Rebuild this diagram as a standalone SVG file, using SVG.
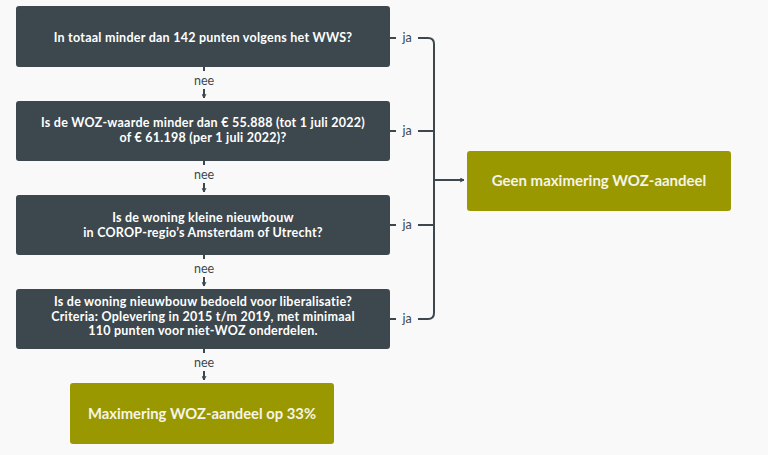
<svg xmlns="http://www.w3.org/2000/svg" width="768" height="455" viewBox="0 0 768 455">
<style>
.q{fill:#3d484e}
.g{fill:#9a9800}
.t{font-family:Lato,"Open Sans",sans-serif;font-weight:bold;font-size:12.5px;letter-spacing:0.25px;fill:#ffffff;text-anchor:middle}
.tg{font-family:Lato,"Open Sans",sans-serif;font-weight:bold;font-size:15px;fill:#f4f4e8;text-anchor:middle}
.l{font-family:Lato,"Open Sans",sans-serif;font-size:12.5px;fill:#3d484e;text-anchor:middle}
.c{fill:none;stroke:#3d484e;stroke-width:2}
</style>
<defs>
<marker id="ah" viewBox="0 0 10 10" refX="9" refY="5" markerWidth="5" markerHeight="5" orient="auto" markerUnits="userSpaceOnUse">
<path d="M1,1 L9,5 L1,9" fill="none" stroke="#3d484e" stroke-width="2"/>
</marker>
</defs>
<rect width="768" height="455" fill="#f9f9f9"/>
<g id="q1">
<rect class="q" x="16" y="6" width="374" height="61" rx="3"/>
<text class="t" x="203" y="42">In totaal minder dan 142 punten volgens het WWS?</text>
</g>
<g id="q2">
<rect class="q" x="16" y="101" width="374" height="60" rx="3"/>
<text class="t" x="203" y="127">Is de WOZ-waarde minder dan € 55.888 (tot 1 juli 2022)</text>
<text class="t" x="203" y="141.5">of € 61.198 (per 1 juli 2022)?</text>
</g>
<g id="q3">
<rect class="q" x="16" y="195" width="374" height="60" rx="3"/>
<text class="t" x="203" y="221.5">Is de woning kleine nieuwbouw</text>
<text class="t" x="203" y="236.5">in COROP-regio’s Amsterdam of Utrecht?</text>
</g>
<g id="q4">
<rect class="q" x="16" y="289" width="374" height="60" rx="3"/>
<text class="t" x="203" y="306">Is de woning nieuwbouw bedoeld voor liberalisatie?</text>
<text class="t" x="203" y="320.5">Criteria: Oplevering in 2015 t/m 2019, met minimaal</text>
<text class="t" x="203" y="335">110 punten voor niet-WOZ onderdelen.</text>
</g>
<g id="r1">
<rect class="g" x="70" y="383" width="264" height="61" rx="3"/>
<text class="tg" x="202" y="419" style="font-size:14.8px">Maximering WOZ-aandeel op 33%</text>
</g>
<g id="r2">
<rect class="g" x="467" y="151" width="264" height="60" rx="3"/>
<text class="tg" x="599" y="186">Geen maximering WOZ-aandeel</text>
</g>
<g id="connectors">
<path class="c" d="M204,67 V71"/>
<path class="c" d="M204,89 V98" marker-end="url(#ah)"/>
<path class="c" d="M204,161 V165"/>
<path class="c" d="M204,183 V192" marker-end="url(#ah)"/>
<path class="c" d="M204,255 V259"/>
<path class="c" d="M204,277 V286" marker-end="url(#ah)"/>
<path class="c" d="M204,349 V353"/>
<path class="c" d="M204,371 V380" marker-end="url(#ah)"/>
<text class="l" x="204" y="85">nee</text>
<text class="l" x="204" y="179">nee</text>
<text class="l" x="204" y="273">nee</text>
<text class="l" x="204" y="367">nee</text>
<path class="c" d="M390,38 H396 M418,38 H428 Q434,38 434,44 V313 Q434,319 428,319 H418 M396,319 H390"/>
<path class="c" d="M390,131 H396 M418,131 H434"/>
<path class="c" d="M390,225 H396 M418,225 H434"/>
<path class="c" d="M434,180 H464" marker-end="url(#ah)"/>
<text class="l" x="407" y="42">ja</text>
<text class="l" x="407" y="135">ja</text>
<text class="l" x="407" y="229">ja</text>
<text class="l" x="407" y="323">ja</text>
</g>
</svg>
